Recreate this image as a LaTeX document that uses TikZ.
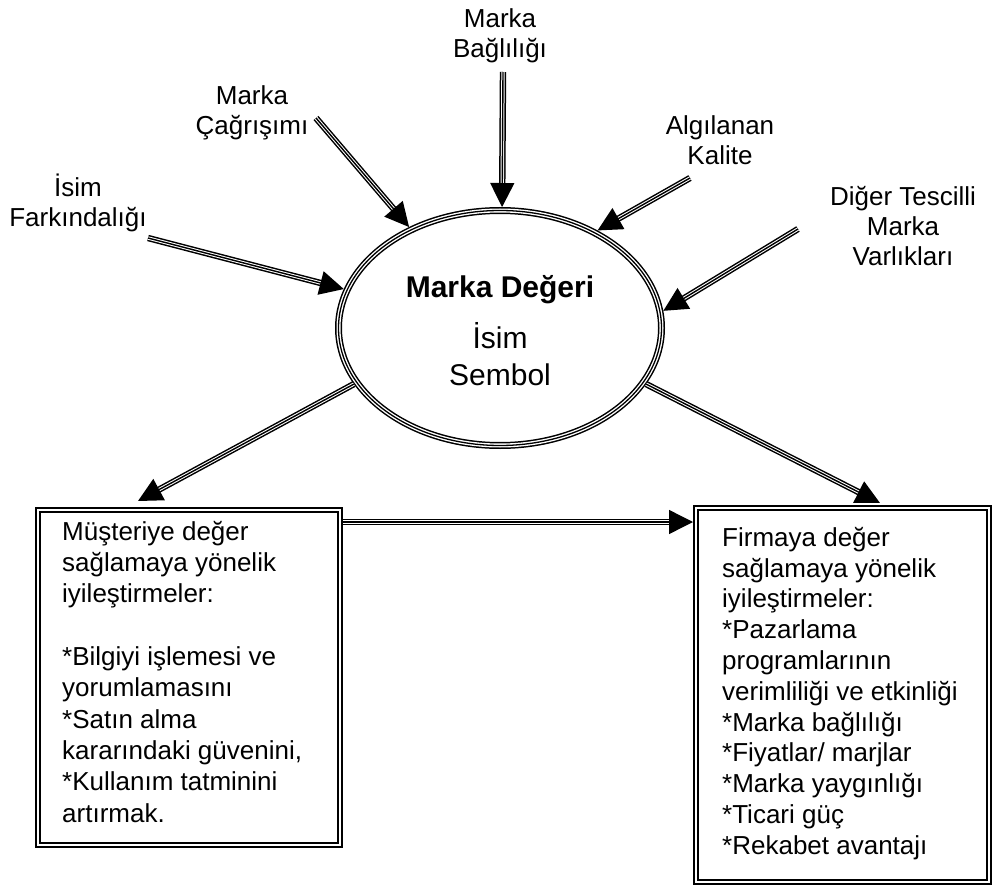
\documentclass[tikz,border=0pt]{standalone}
\usepackage{fontspec}
\setmainfont{Liberation Sans}
\usetikzlibrary{arrows.meta,shapes.geometric}
\newcommand\triarrow[2]{%
  \draw[shaft] (#1) -- (#2);
  \draw[core] (#1) -- (#2);}
\begin{document}
\begin{tikzpicture}[x=1pt,y=-1pt,
  lbl/.style={align=center, inner sep=0pt, anchor=north, font=\fontsize{26}{30}\selectfont},
  boxtext/.style={align=left, inner sep=0pt, anchor=north west},
  box/.style={draw, line width=2pt, double, double distance=2.4pt, outer sep=0pt, inner sep=0pt, anchor=north west},
  shaft/.style={line width=6.4pt, shorten >=18pt, postaction={draw=white, line width=3.4pt}},
  core/.style={line width=1.4pt, -{Triangle[length=24pt,width=24pt]}},
  hub/.style={ellipse, draw, line width=7pt, minimum width=323pt, minimum height=235pt, inner sep=0pt,
    postaction={draw=white, line width=4pt}, postaction={draw=black, line width=1.3pt}},
  hubtext/.style={anchor=base, inner sep=0pt, font=\fontsize{30}{34}\selectfont}
]
\useasboundingbox (0,0) rectangle (994,888);

% central ellipse
\node[hub] (E) at (500,328) {};
\node[hubtext, font=\fontsize{30}{34}\selectfont\bfseries] (t1) at (500,297) {Marka Değeri};
\node[hubtext] (t2) at (500,348) {İsim};
\node[hubtext] (t3) at (500,385) {Sembol};

% source labels
\node[lbl] (bag) at (500,8) {Marka\\Bağlılığı};
\node[lbl] (cag) at (252,85) {Marka\\Çağrışımı};
\node[lbl] (alg) at (720,115) {Algılanan\\Kalite};
\node[lbl] (isim) at (78,174) {İsim\\Farkındalığı};
\node[lbl] (dig) at (903,186) {Diğer Tescilli\\Marka\\Varlıkları};

% tails of incoming arrows
\coordinate (a-bag) at (503,72);
\coordinate (a-cag) at (316,118);
\coordinate (a-alg) at (690,178);
\coordinate (a-isim) at (148,238);
\coordinate (a-dig) at (798,229);

\triarrow{a-bag}{E.89}
\triarrow{a-cag}{E.132.6}
\triarrow{a-alg}{E.45.6}
\triarrow{a-isim}{E.166}
\triarrow{a-dig}{E.6.2}

% result boxes
\node[box, minimum width=302pt, minimum height=335pt] (L) at (38,510) {};
\node[box, minimum width=293pt, minimum height=374pt] (R) at (696,508) {};

\node[boxtext, font=\fontsize{26}{31.3}\selectfont] (lt) at (62,521) {Müşteriye değer\\sağlamaya yönelik\\iyileştirmeler:\\[31.3pt]*Bilgiyi işlemesi ve\\yorumlamasını\\*Satın alma\\kararındaki güvenini,\\*Kullanım tatminini\\artırmak.};
\node[boxtext, font=\fontsize{26}{30.8}\selectfont] (rt) at (722,527) {Firmaya değer\\sağlamaya yönelik\\iyileştirmeler:\\*Pazarlama\\programlarının\\verimliliği ve etkinliği\\*Marka bağlılığı\\*Fiyatlar/ marjlar\\*Marka yaygınlığı\\*Ticari güç\\*Rekabet avantajı};

% outgoing arrows
\coordinate (tip-L) at (138,501);
\coordinate (tip-R) at (880,503);
\triarrow{E.201.2}{tip-L}
\triarrow{E.339.2}{tip-R}

% link between the boxes
\coordinate (h-s) at (343,522);
\coordinate (h-e) at (693,522);
\triarrow{h-s}{h-e}
\end{tikzpicture}
\end{document}
